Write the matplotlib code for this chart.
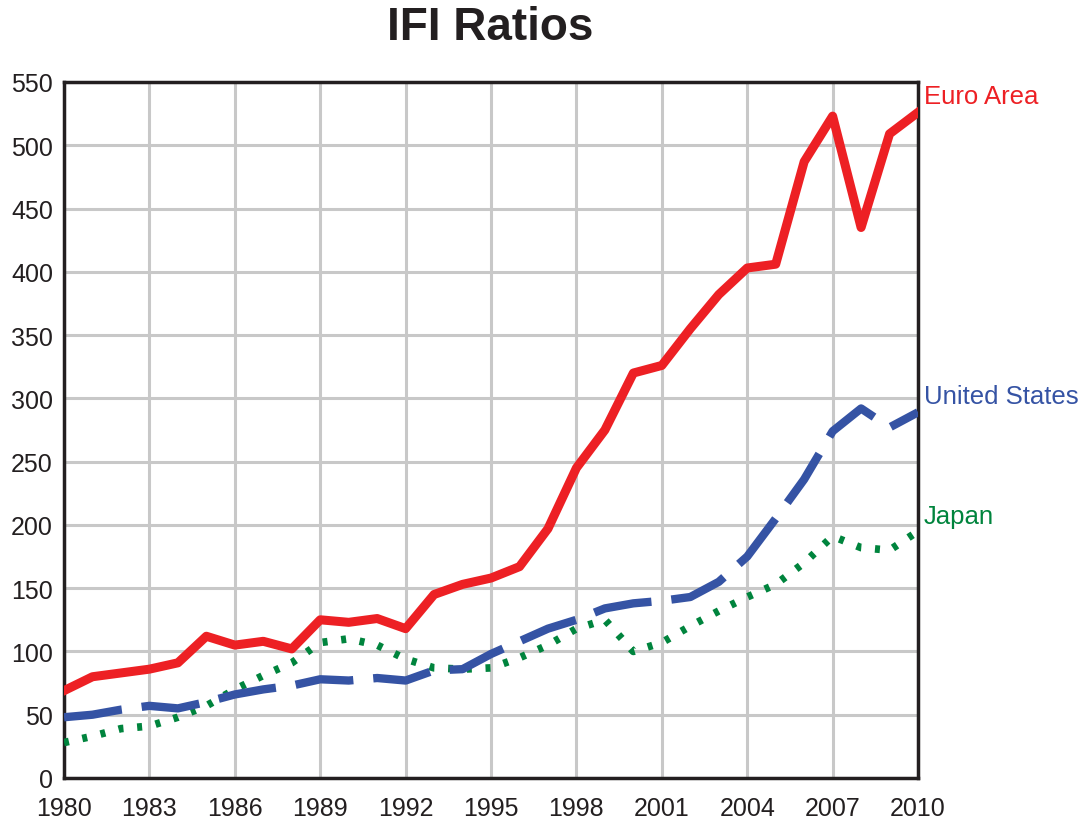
import matplotlib.pyplot as plt

plt.rcParams['font.family'] = ['Liberation Sans', 'DejaVu Sans']

years = list(range(1980, 2011))

euro_area = [69, 80, 83, 86, 91, 112, 105, 108, 102, 125, 123, 126, 118, 145, 153,
             158, 167, 197, 245, 275, 320, 326, 355, 382, 403, 406, 487, 523, 435, 509, 526]
united_states = [48, 50, 54, 57, 55, 60, 66, 70, 73, 78, 77, 79, 77, 85, 86,
                 98, 108, 118, 125, 134, 138, 140, 143, 155, 175, 205, 236, 274, 292, 277, 289]
japan = [28, 33, 39, 41, 48, 57, 70, 81, 91, 107, 110, 105, 94, 87, 86,
         87, 95, 105, 118, 125, 100, 107, 120, 132, 143, 153, 170, 191, 182, 180, 195]

x_ticks = list(range(1980, 2011, 3))
y_ticks = list(range(0, 551, 50))

red = '#ED2024'
blue = '#3553A4'
green = '#00843D'

fig = plt.figure(figsize=(10.89, 8.28), dpi=100)
ax = fig.add_axes([0.0588, 0.0592, 0.7842, 0.8406])

ax.plot(years, japan, color=green, linewidth=5.5, dashes=(0.65, 1.8), zorder=3)
ax.plot(years, united_states, color=blue, linewidth=6, dashes=(7.0, 2.4), zorder=4)
ax.plot(years, euro_area, color=red, linewidth=6.5, solid_joinstyle='round', zorder=5)

ax.set_xlim(1980, 2010)
ax.set_ylim(0, 550)
ax.set_xticks(x_ticks)
ax.set_yticks(y_ticks)
ax.tick_params(length=0, labelsize=18, labelcolor='#231F20')
ax.tick_params(axis='y', pad=8)
ax.tick_params(axis='x', pad=13)
ax.grid(True, color='#C8C8C8', linewidth=2.2)
ax.set_axisbelow(True)
for s in ax.spines.values():
    s.set_linewidth(2.5)
    s.set_color('#231F20')

# series labels at the right edge
ax.text(1.007, 539, 'Euro Area', color=red, fontsize=18.5, va='center',
        transform=ax.get_yaxis_transform())
ax.text(1.007, 302, 'United States', color=blue, fontsize=18.5, va='center',
        transform=ax.get_yaxis_transform())
ax.text(1.007, 207, 'Japan', color=green, fontsize=18.5, va='center',
        transform=ax.get_yaxis_transform())

fig.text(0.45, 0.966, 'IFI Ratios', fontsize=33, fontweight='bold', ha='center', va='center',
         color='#231F20')

fig.savefig('out.png', dpi=100)
